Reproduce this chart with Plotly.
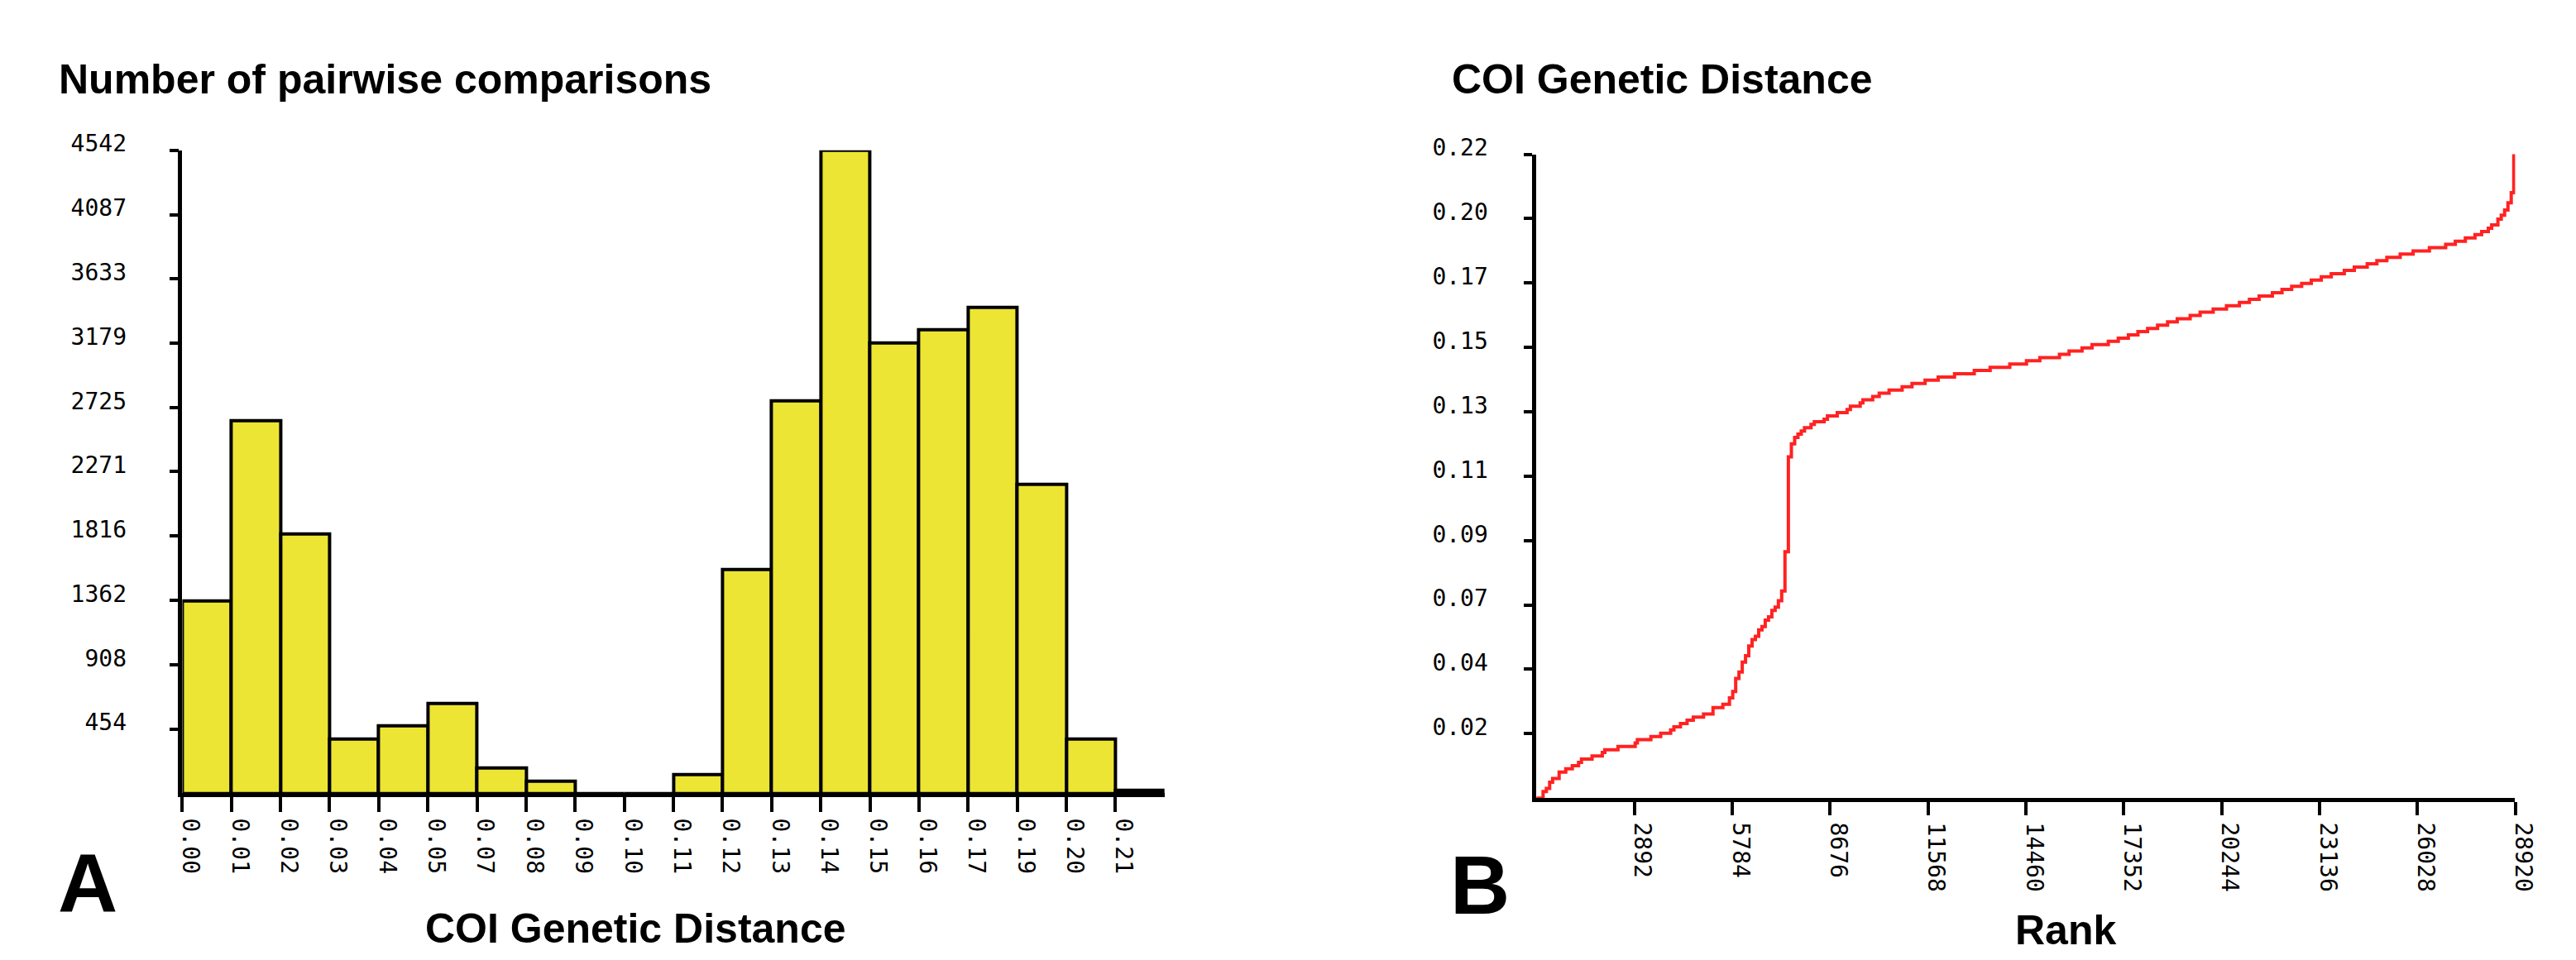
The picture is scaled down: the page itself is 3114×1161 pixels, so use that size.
import plotly.graph_objects as go

# ---------------- Panel A data: histogram of pairwise distances ----------------
bin_edge_labels = ["0.00", "0.01", "0.02", "0.03", "0.04", "0.05", "0.07", "0.08", "0.09", "0.10",
                   "0.11", "0.12", "0.13", "0.14", "0.15", "0.16", "0.17", "0.19", "0.20", "0.21"]
bin_counts = [1360, 2630, 1830, 383, 475, 635, 177, 88, 0, 0,
              133, 1581, 2773, 4542, 3182, 3273, 3435, 2181, 381, 22]
count_tick_labels = ["454", "908", "1362", "1816", "2271", "2725", "3179", "3633", "4087", "4542"]
count_max = 4542

# ---------------- Panel B data: ranked genetic distances (step corners) --------
rank_steps = [0, 200, 297, 394, 481, 674, 870, 1064, 1248, 1334,
              1647, 1949, 2024, 2413, 2921, 2986, 3385, 3675, 3968, 4065,
              4258, 4454, 4637, 4940, 5220, 5511, 5706, 5803, 5890, 5987,
              6084, 6181, 6277, 6374, 6473, 6570, 6667, 6763, 6860, 6959,
              7056, 7152, 7249, 7346, 7447, 7536, 7633, 7730, 7827, 7923,
              8117, 8214, 8504, 8601, 8891, 9181, 9278, 9568, 9648, 9938,
              10131, 10422, 10808, 11099, 11486, 11873, 12356, 12939, 13408, 13988,
              14481, 14876, 15456, 15739, 16123, 16418, 16899, 17194, 17491, 17774,
              18060, 18355, 18650, 18935, 19317, 19612, 19997, 20391, 20773, 21068,
              21353, 21747, 22031, 22316, 22611, 22896, 23191, 23486, 23871, 24166,
              24548, 24833, 25128, 25522, 25904, 26385, 26866, 27151, 27447, 27732,
              27928, 28126, 28225, 28409, 28508, 28607, 28706, 28803, 28878, 28920]
distance_steps = [0, 0.0022, 0.0033, 0.0054, 0.0066, 0.0088, 0.0099, 0.0110, 0.0121, 0.0132,
                  0.0143, 0.0155, 0.0164, 0.0175, 0.0187, 0.0198, 0.0209, 0.0220, 0.0231, 0.0242,
                  0.0253, 0.0264, 0.0275, 0.0285, 0.0307, 0.0318, 0.0340, 0.0362, 0.0406, 0.0428,
                  0.0461, 0.0483, 0.0516, 0.0538, 0.0549, 0.0571, 0.0582, 0.0604, 0.0615, 0.0637,
                  0.0648, 0.0670, 0.0703, 0.0836, 0.1158, 0.1202, 0.1224, 0.1235, 0.1246, 0.1257,
                  0.1268, 0.1277, 0.1286, 0.1297, 0.1308, 0.1319, 0.1330, 0.1341, 0.1352, 0.1363,
                  0.1374, 0.1385, 0.1396, 0.1407, 0.1418, 0.1429, 0.1440, 0.1451, 0.1462, 0.1473,
                  0.1484, 0.1495, 0.1506, 0.1517, 0.1528, 0.1539, 0.1550, 0.1561, 0.1572, 0.1583,
                  0.1594, 0.1605, 0.1616, 0.1627, 0.1638, 0.1649, 0.1660, 0.1671, 0.1682, 0.1693,
                  0.1704, 0.1715, 0.1726, 0.1737, 0.1747, 0.1758, 0.1769, 0.1780, 0.1791, 0.1802,
                  0.1813, 0.1824, 0.1835, 0.1846, 0.1857, 0.1868, 0.1879, 0.1890, 0.1901, 0.1912,
                  0.1923, 0.1934, 0.1945, 0.1965, 0.1978, 0.1996, 0.2020, 0.2055, 0.2185, 0.2185]
distance_tick_vals = [0.02185, 0.0437, 0.06555, 0.0874, 0.10925, 0.1311, 0.15295, 0.1748, 0.19665, 0.2185]
distance_tick_labels = ["0.02", "0.04", "0.07", "0.09", "0.11", "0.13", "0.15", "0.17", "0.20", "0.22"]
rank_tick_vals = [2892, 5784, 8676, 11568, 14460, 17352, 20244, 23136, 26028, 28920]
rank_tick_labels = ["2892", "5784", "8676", "11568", "14460", "17352", "20244", "23136", "26028", "28920"]
distance_max = 0.2185
rank_max = 28920

W, H = 3114, 1161
TICKFONT = dict(family="DejaVu Sans Mono", size=28, color="black")
TITLEFONT = "Liberation Sans, Arial, sans-serif"

fig = go.Figure()

fig.add_trace(go.Bar(
    x=list(range(len(bin_counts))), y=bin_counts, offset=0, width=1,
    marker=dict(color="#EDE533", line=dict(color="black", width=4)),
    xaxis="x", yaxis="y", showlegend=False, hoverinfo="skip",
))

fig.add_trace(go.Scatter(
    x=rank_steps, y=distance_steps, mode="lines", line_shape="hv",
    line=dict(color="#FF2222", width=4),
    xaxis="x2", yaxis="y2", showlegend=False, hoverinfo="skip",
))

axis_common = dict(showgrid=False, zeroline=False, showline=True, linecolor="black",
                   linewidth=4.5, ticks="outside", tickcolor="black", tickwidth=4,
                   tickfont=TICKFONT, fixedrange=True)

fig.update_layout(
    width=W, height=H, margin=dict(l=0, r=0, t=0, b=0),
    paper_bgcolor="white", plot_bgcolor="white", bargap=0,
    xaxis=dict(domain=[216.7 / W, 1416.7 / W], range=[0, len(bin_counts)],
               tickmode="array", tickvals=list(range(len(bin_edge_labels))), ticktext=bin_edge_labels,
               tickangle=90, ticklen=18, ticklabelshift=10, ticklabelstandoff=2,
               anchor="y", **axis_common),
    yaxis=dict(domain=[1 - 955 / H, 1 - 161 / H], range=[0, count_max],
               tickmode="array", tickvals=[int(v) for v in count_tick_labels], ticktext=count_tick_labels,
               ticklen=11, ticklabelshift=-8, ticklabelstandoff=46,
               anchor="x", **axis_common),
    xaxis2=dict(domain=[1871 / W, 3067 / W], range=[0, rank_max],
                tickmode="array", tickvals=rank_tick_vals, ticktext=rank_tick_labels,
                tickangle=90, ticklen=16, ticklabelshift=10, ticklabelstandoff=3,
                anchor="y2", **axis_common),
    yaxis2=dict(domain=[1 - 961 / H, 1 - 166 / H], range=[0, distance_max],
                tickmode="array", tickvals=distance_tick_vals, ticktext=distance_tick_labels,
                ticklen=10, ticklabelshift=-8, ticklabelstandoff=38,
                anchor="x2", **axis_common),
)

def note(text, px, py, size, xanchor="center"):
    fig.add_annotation(text=text, x=px / W, y=1 - py / H, xref="paper", yref="paper",
                       xanchor=xanchor, yanchor="middle", showarrow=False,
                       font=dict(family=TITLEFONT, size=size, color="black", weight="bold"))

note("Number of pairwise comparisons", 64, 74, 50, xanchor="left")
note("COI Genetic Distance", 1766, 74, 50, xanchor="left")
note("COI Genetic Distance", 771, 1122, 50)
note("Rank", 2518, 1124, 50)
note("A", 101, 1066, 100)
note("B", 1802, 1068, 100)

fig.write_html("out.html", config={"displayModeBar": False},
               post_script="document.body.style.margin='0';document.body.style.overflow='hidden';")
